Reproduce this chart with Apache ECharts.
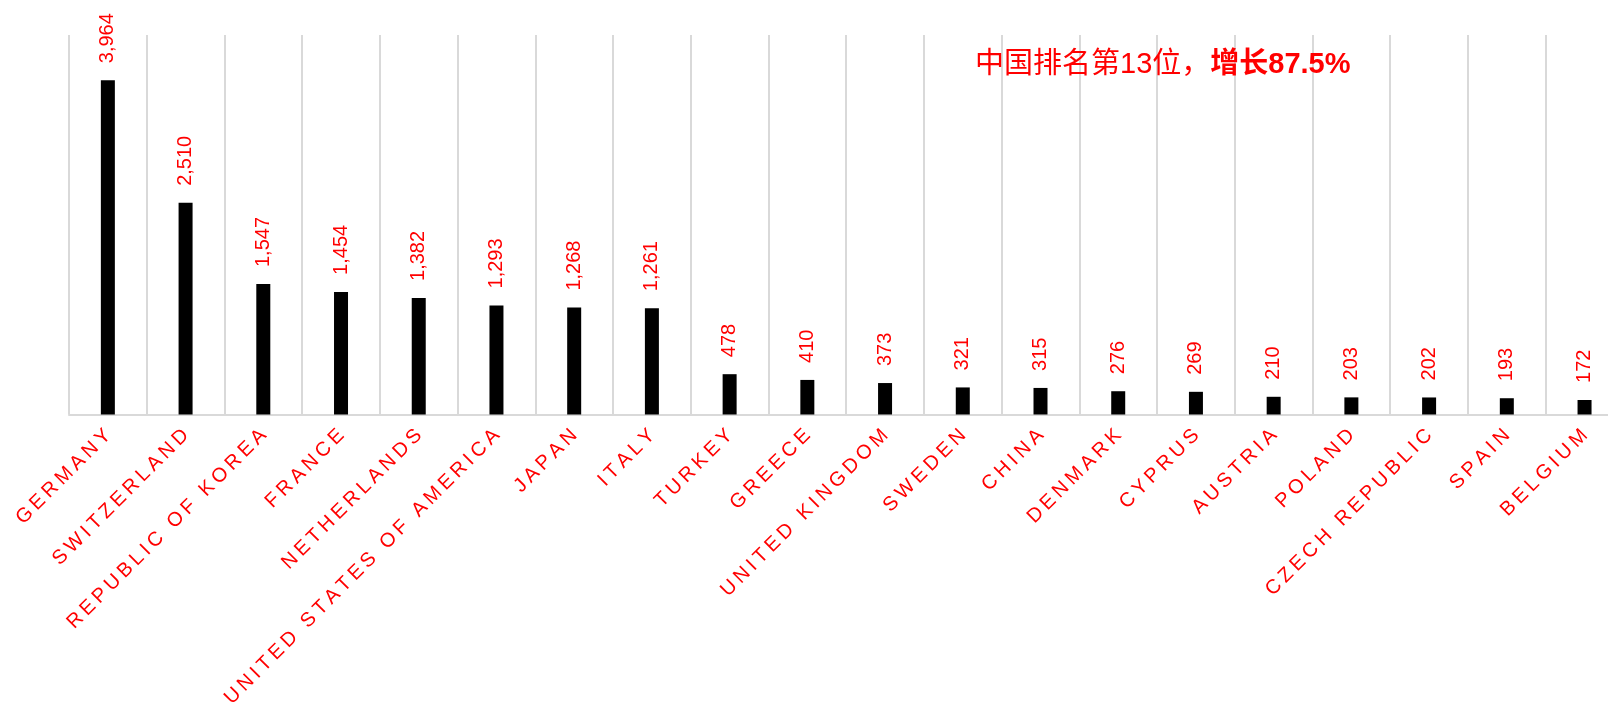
<!DOCTYPE html>
<html>
<head>
<meta charset="utf-8">
<script src="https://cdn.jsdelivr.net/npm/echarts@6/dist/echarts.min.js"></script>
<style>
  html, body { margin: 0; padding: 0; background: #fff; }
  #chart { width: 1608px; height: 713px; }
</style>
</head>
<body>
<div id="chart"></div>
<script>
// 国家名称（按数量排序）
const countries = [
  'GERMANY', 'SWITZERLAND', 'REPUBLIC OF KOREA', 'FRANCE', 'NETHERLANDS',
  'UNITED STATES OF AMERICA', 'JAPAN', 'ITALY', 'TURKEY', 'GREECE',
  'UNITED KINGDOM', 'SWEDEN', 'CHINA', 'DENMARK', 'CYPRUS',
  'AUSTRIA', 'POLAND', 'CZECH REPUBLIC', 'SPAIN', 'BELGIUM'
];
// 数量
const counts = [
  3964, 2510, 1547, 1454, 1382,
  1293, 1268, 1261, 478, 410,
  373, 321, 315, 276, 269,
  210, 203, 202, 193, 172
];
const yMax = 4500;

const FONT = '"Liberation Sans", Arial, "Noto Sans CJK SC", sans-serif';
const chart = echarts.init(document.getElementById('chart'));

const option = {
  animation: false,
  title: {
    text: '{a|中国排名第13位，}{b|增长87.5%}',
    left: 975,
    top: 48,
    padding: 0,
    textStyle: {
      fontWeight: 'normal',
      rich: {
        a: { color: '#ff0000', fontSize: 29, lineHeight: 34, fontWeight: 'normal', fontFamily: FONT },
        b: { color: '#ff0000', fontSize: 29, lineHeight: 34, fontWeight: 'bold', fontFamily: FONT }
      }
    }
  },
  grid: {
    left: 69,
    right: -15.4,
    top: 35,
    bottom: 298.5,
    containLabel: false,
    outerBoundsMode: 'none'
  },
  xAxis: {
    type: 'category',
    data: countries,
    axisLine: { lineStyle: { color: '#d9d9d9', width: 2 } },
    axisTick: { show: false },
    splitLine: { show: true, lineStyle: { color: '#d9d9d9', width: 2 } },
    axisLabel: {
      interval: 0,
      rotate: 45,
      margin: 18,
      color: '#ff0000',
      fontSize: 20,
      fontFamily: FONT,
      // 字母间距
      formatter: v => v.split('').join('\u2009')
    }
  },
  yAxis: {
    type: 'value',
    min: 0,
    max: yMax,
    show: false,
    splitLine: { show: false }
  },
  series: [
    {
      type: 'bar',
      data: counts,
      barWidth: 14,
      itemStyle: { color: '#000000' },
      label: {
        show: true,
        position: 'top',
        distance: 17,
        rotate: 90,
        align: 'left',
        verticalAlign: 'middle',
        color: '#ff0000',
        fontSize: 20,
        fontFamily: FONT,
        formatter: p => p.value.toLocaleString('en-US')
      }
    }
  ]
};

chart.setOption(option);
</script>
</body>
</html>
